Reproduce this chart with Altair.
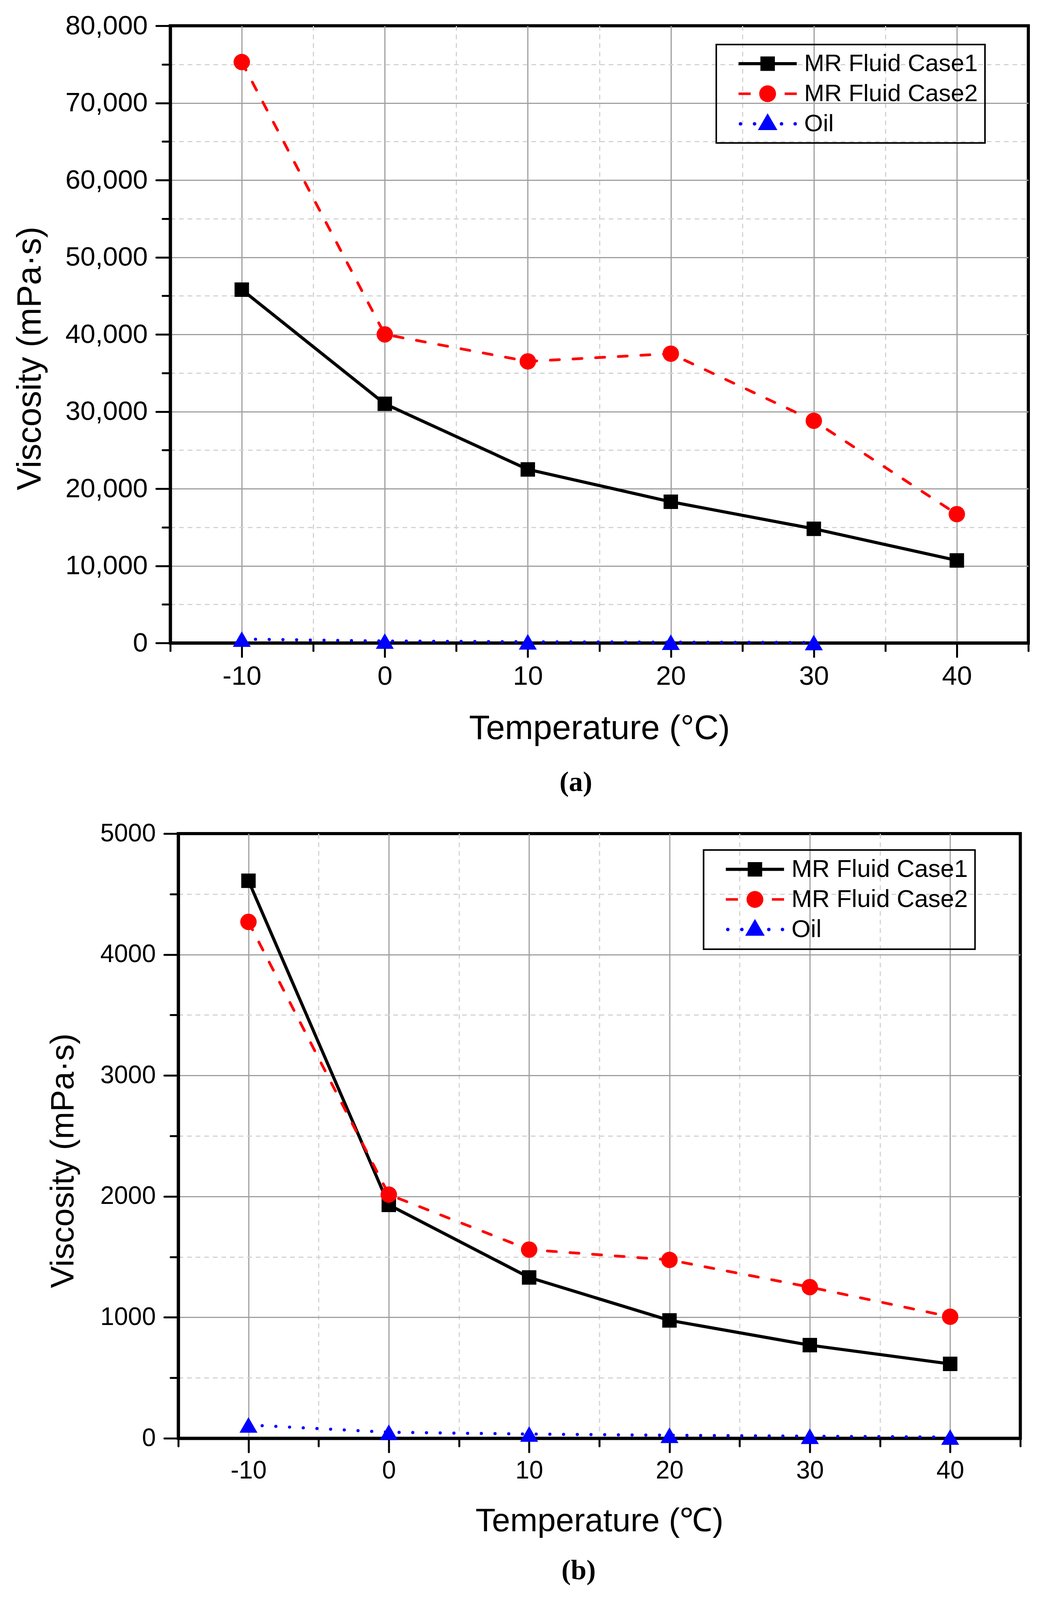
import altair as alt
import pandas as pd

# ---------------- data ----------------
temps = [-10, 0, 10, 20, 30, 40]
a_case1 = [45800, 31000, 22500, 18300, 14800, 10700]
a_case2 = [75300, 40000, 36500, 37500, 28800, 16700]
a_oil_temps = [-10, 0, 10, 20, 30]
a_oil = [500, 250, 150, 100, 60]

b_case1 = [4610, 1930, 1330, 975, 770, 615]
b_case2 = [4270, 2015, 1560, 1475, 1250, 1005]
b_oil = [110, 50, 35, 25, 17, 10]

series_names = ["MR Fluid Case1", "MR Fluid Case2", "Oil"]
series_colors = ["#000000", "#ff0000", "#0000ff"]

x_ticks = list(range(-15, 50, 5))
a_y_ticks = list(range(0, 80001, 5000))
b_y_ticks = list(range(0, 5001, 500))

# legend glyphs (line sample + marker); symbol scale = 20 px per unit
U = 20.0


def u(v):
    return round(v / U, 4)


def rect(x1, x2, h):
    return f"M{u(x1)},{u(-h)}H{u(x2)}V{u(h)}H{u(x1)}Z"


def dot(cx, r):
    return (f"M{u(cx - r)},0A{u(r)} {u(r)} 0 1 1 {u(cx + r)} 0"
            f"A{u(r)} {u(r)} 0 1 1 {u(cx - r)} 0Z")


legend_paths = [
    rect(-74.5, 74.5, 4) + " " + rect(-18.5, 18.5, 18.5),
    rect(-74.5, -43.5, 3.2) + " " + rect(43.5, 74.5, 3.2) + " " + dot(0, 21.5),
    " ".join(dot(c, 4.5) for c in [-69.5, -33.5, 35.5, 70.5])
    + f" M0,{u(-27)}L{u(25)},{u(16)}H{u(-25)}Z",
]
LEG_SIZE = int(U * 2) ** 2


def frame(tlist, vals, name):
    return pd.DataFrame({"temp": tlist, "value": vals, "series": name})


def cond(test, a, b):
    return {"condition": {"test": test, "value": a}, "value": b}


def build_panel(df, W, H, ymax, yticks, ymajor, yfmt, lab_fs, title_fs,
                xtitle, xtitle_pad, ytitle_x, ytitle_y,
                leg_x, leg_y, leg_fs, leg_rowpad, sym_off, lab_off,
                cap, cap_dx, cap_offset):
    xtest = "datum.value % 10 === 0"
    ytest = f"datum.value % {ymajor} === 0"
    common = dict(
        grid=True, gridWidth=3, domainColor="black", domainWidth=8,
        tickColor="black", tickWidth=5, tickCap="round",
        labelFont="Liberation Sans", labelFontSize=lab_fs, labelColor="black",
        labelFlush=False, labelOverlap=False, labelLimit=500,
        titleFont="Liberation Sans", titleFontSize=title_fs,
        titleFontWeight="normal", titleColor="black",
    )
    xaxis = alt.Axis(
        values=x_ticks, title=xtitle,
        labelExpr=f"{xtest} ? '' + datum.value : ''",
        labelPadding=16,
        tickSize=cond(xtest, 35, 20),
        gridColor=cond(xtest, "#a0a0a0", "#d3d3d3"),
        gridDash=cond(xtest, [], [12, 10]),
        gridOpacity=cond("datum.value === -15 || datum.value === 45", 0, 1),
        titlePadding=xtitle_pad, **common)
    yaxis = alt.Axis(
        values=yticks, title="Viscosity (mPa·s)", format=yfmt,
        labelExpr=f"{ytest} ? datum.label : ''",
        labelPadding=22,
        tickSize=cond(ytest, 36, 20),
        gridColor=cond(ytest, "#a0a0a0", "#d3d3d3"),
        gridDash=cond(ytest, [], [12, 10]),
        gridOpacity=cond(f"datum.value === 0 || datum.value === {ymax}", 0, 1),
        titleX=ytitle_x, titleY=ytitle_y, titleAngle=270, titleBaseline="bottom",
        titleAlign="center", **common)

    x = alt.X("temp:Q", scale=alt.Scale(domain=[-15, 45], nice=False, zero=False), axis=xaxis)
    y = alt.Y("value:Q", scale=alt.Scale(domain=[0, ymax], nice=False), axis=yaxis)
    base = alt.Chart(df).encode(x=x, y=y)

    def sel(i):
        return base.transform_filter(alt.datum.series == series_names[i])

    line1 = sel(0).mark_line(color="#000000", strokeWidth=8, strokeJoin="round")
    line2 = sel(1).mark_line(color="#ff0000", strokeWidth=7, strokeDash=[23, 35],
                             strokeCap="round", strokeJoin="round")
    line3 = sel(2).mark_line(color="#0000ff", strokeWidth=8, strokeDash=[0.1, 35],
                             strokeCap="round")
    pt1 = sel(0).mark_point(shape="square", filled=True, size=1369, color="#000000", opacity=1)
    pt2 = sel(1).mark_point(shape="circle", filled=True, size=1764, color="#ff0000", opacity=1)
    pt3 = sel(2).mark_point(shape="triangle-up", filled=True, size=2116, color="#0000ff", opacity=1)

    leg = alt.Legend(
        title=None, orient="none", legendX=leg_x, legendY=leg_y, direction="vertical",
        labelFont="Liberation Sans", labelFontSize=leg_fs, labelColor="black",
        labelLimit=0, labelOffset=lab_off, symbolOffset=sym_off,
        symbolSize=LEG_SIZE, symbolStrokeWidth=0,
        symbolOpacity=1, padding=18, rowPadding=leg_rowpad, strokeColor="black",
    )
    legend_layer = alt.Chart(df).transform_filter("false").mark_point(
        filled=True, opacity=1).encode(
        x=x, y=y,
        fill=alt.Fill("series:N", scale=alt.Scale(domain=series_names, range=series_colors), legend=leg),
        shape=alt.Shape("series:N", scale=alt.Scale(domain=series_names, range=legend_paths), legend=leg),
    )

    return alt.layer(line1, line2, line3, pt1, pt2, pt3, legend_layer).properties(
        width=W, height=H,
        title=alt.TitleParams(
            text=cap, orient="bottom", anchor="middle", frame="group", dx=cap_dx,
            offset=cap_offset, font="Liberation Serif", fontSize=72, fontWeight="bold",
            color="black", baseline="top"),
    )


df_a = pd.concat([
    frame(temps, a_case1, series_names[0]),
    frame(temps, a_case2, series_names[1]),
    frame(a_oil_temps, a_oil, series_names[2]),
], ignore_index=True)

df_b = pd.concat([
    frame(temps, b_case1, series_names[0]),
    frame(temps, b_case2, series_names[1]),
    frame(temps, b_oil, series_names[2]),
], ignore_index=True)

panel_a = build_panel(
    df_a, 2197, 1580, 80000, a_y_ticks, 10000, ",d", 69, 87,
    "Temperature (°C)", 56, -315, 851,
    1398, 48, 62, 15, 82.5, 62.5,
    "(a)", -60, 60)

panel_b = build_panel(
    df_b, 2156, 1548, 5000, b_y_ticks, 1000, "d", 64, 84,
    "Temperature (℃)", 56, -251, 837,
    1345, 42, 63, 13, 82, 62,
    "(b)", -53, 50)

chart = alt.vconcat(panel_a, panel_b, spacing=488, bounds="flush", center=True).resolve_scale(
    x="independent", y="independent", fill="independent", shape="independent"
).resolve_legend(
    fill="independent", shape="independent"
).configure_view(
    stroke="black", strokeWidth=8
).configure_legend(
    strokeWidth=4
).properties(
    padding={"left": 21, "top": 20, "right": 10, "bottom": 0},
    background="white",
)

chart.save("out.html", embed_options={"renderer": "svg", "actions": False})
